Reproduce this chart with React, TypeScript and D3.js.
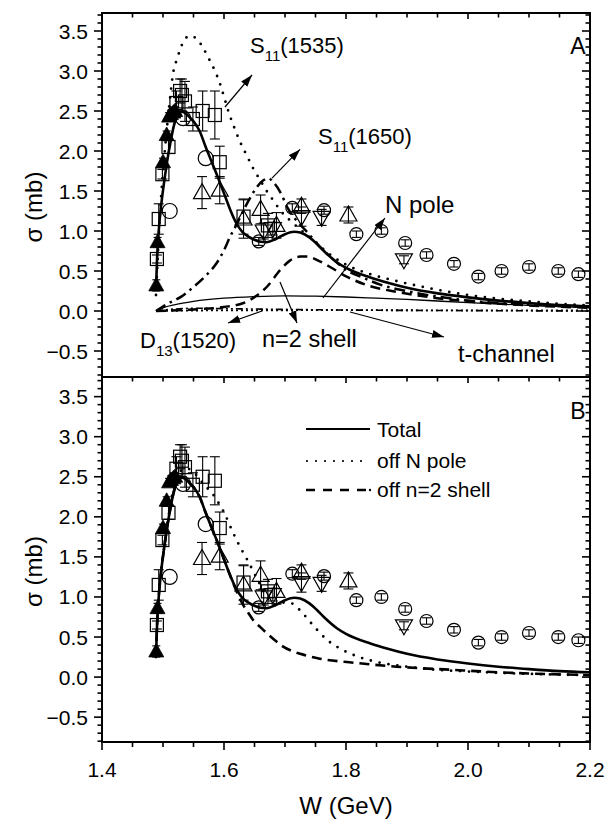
import React from 'react';
import * as d3 from 'd3';

// ---------- data ----------
// [W (GeV), sigma (mb), error]
const squares: number[][] = [
  [1.490, 0.65, 0.05], [1.493, 1.15, 0.19], [1.499, 1.71, 0.06], [1.509, 2.05, 0.08],
  [1.522, 2.60, 0.15], [1.528, 2.75, 0.15], [1.531, 2.70, 0.2], [1.536, 2.62, 0.25],
  [1.549, 2.40, 0.15], [1.565, 2.50, 0.25], [1.585, 2.45, 0.3], [1.593, 1.86, 0.2],
  [1.632, 1.18, 0.22], [1.672, 1.07, 0.15],
];
const filledTriangles: number[][] = [
  [1.489, 0.32, 0.07], [1.491, 0.86, 0.06], [1.500, 1.86, 0.05], [1.506, 2.20, 0.05],
  [1.510, 2.43, 0.05], [1.513, 2.46, 0.05], [1.517, 2.48, 0.05], [1.520, 2.50, 0.05],
];
const bigCircles: number[][] = [
  [1.511, 1.25, 0.0], [1.533, 2.41, 0.0], [1.570, 1.91, 0.0],
];
const smallCircles: number[][] = [
  [1.657, 0.87, 0.05], [1.712, 1.29, 0.05], [1.764, 1.26, 0.05], [1.817, 0.96, 0.04],
  [1.858, 1.00, 0.04], [1.897, 0.85, 0.04], [1.932, 0.70, 0.04], [1.977, 0.59, 0.04],
  [2.017, 0.43, 0.04], [2.055, 0.50, 0.04], [2.100, 0.55, 0.04], [2.148, 0.50, 0.04],
  [2.181, 0.46, 0.04],
];
const upTriangles: number[][] = [
  [1.564, 1.48, 0.2], [1.593, 1.51, 0.17], [1.632, 1.15, 0.24], [1.660, 1.27, 0.18],
  [1.686, 1.07, 0.16], [1.727, 1.31, 0.09], [1.804, 1.20, 0.1],
];
const downTriangles: number[][] = [
  [1.665, 1.0, 0.1], [1.680, 1.03, 0.08], [1.727, 1.18, 0.12], [1.760, 1.17, 0.1],
  [1.895, 0.64, 0.05],
];

// ---------- model curves [W, sigma] ----------
const totalCurve: number[][] = [
  [1.4885, 0.25], [1.490, 0.6], [1.493, 1.0], [1.497, 1.32], [1.502, 1.62], [1.507, 1.88],
  [1.512, 2.10], [1.518, 2.32], [1.524, 2.45], [1.530, 2.49], [1.537, 2.47], [1.545, 2.41],
  [1.550, 2.37], [1.560, 2.25], [1.570, 2.05], [1.580, 1.86], [1.590, 1.67], [1.600, 1.47],
  [1.610, 1.27], [1.620, 1.10], [1.630, 0.99], [1.640, 0.93], [1.650, 0.89], [1.660, 0.865],
  [1.670, 0.86], [1.685, 0.90], [1.700, 0.96], [1.715, 0.99], [1.725, 0.98], [1.740, 0.92],
  [1.752, 0.84], [1.765, 0.74], [1.785, 0.61], [1.800, 0.54], [1.840, 0.42], [1.870, 0.35],
  [1.900, 0.29], [1.950, 0.22], [2.000, 0.17], [2.050, 0.13], [2.100, 0.10], [2.150, 0.075],
  [2.200, 0.06],
];
const s11_1535: number[][] = [
  [1.4885, 0.2], [1.495, 1.2], [1.503, 2.0], [1.510, 2.55], [1.517, 2.99], [1.523, 3.15],
  [1.533, 3.36], [1.544, 3.44], [1.554, 3.41], [1.565, 3.3], [1.574, 3.17], [1.584, 3.02],
  [1.593, 2.85], [1.600, 2.68], [1.607, 2.5], [1.615, 2.33], [1.626, 2.12], [1.637, 1.95],
  [1.648, 1.78], [1.659, 1.64], [1.670, 1.5], [1.681, 1.38], [1.692, 1.26], [1.710, 1.12],
  [1.725, 1.02], [1.746, 0.89], [1.768, 0.74], [1.800, 0.58], [1.840, 0.46], [1.880, 0.38],
  [1.940, 0.28], [2.000, 0.20], [2.050, 0.155], [2.100, 0.12], [2.150, 0.09], [2.200, 0.07],
];
const s11_1650: number[][] = [
  [1.4885, 0.0], [1.510, 0.1], [1.530, 0.18], [1.550, 0.30], [1.570, 0.44], [1.588, 0.60],
  [1.600, 0.76], [1.610, 0.93], [1.622, 1.1], [1.632, 1.26], [1.644, 1.43], [1.654, 1.55],
  [1.664, 1.63], [1.672, 1.66], [1.682, 1.6], [1.692, 1.49], [1.705, 1.28], [1.720, 1.12],
  [1.736, 0.99], [1.755, 0.82], [1.774, 0.68], [1.801, 0.51], [1.830, 0.41], [1.856, 0.33],
  [1.905, 0.24], [1.950, 0.18], [2.000, 0.13], [2.100, 0.08], [2.200, 0.05],
];
const n2Shell: number[][] = [
  [1.4885, 0.0], [1.550, 0.02], [1.600, 0.05], [1.632, 0.1], [1.655, 0.2], [1.670, 0.3],
  [1.692, 0.51], [1.708, 0.63], [1.725, 0.68], [1.737, 0.68], [1.752, 0.64], [1.774, 0.55],
  [1.801, 0.43], [1.840, 0.31], [1.883, 0.24], [1.940, 0.17], [2.000, 0.12], [2.100, 0.07],
  [2.200, 0.04],
];
const nPole: number[][] = [
  [1.4885, 0.0], [1.500, 0.04], [1.520, 0.08], [1.550, 0.12], [1.600, 0.16], [1.650, 0.18],
  [1.700, 0.19], [1.750, 0.185], [1.800, 0.175], [1.850, 0.16], [1.900, 0.145], [1.950, 0.125],
  [2.000, 0.105], [2.100, 0.07], [2.200, 0.04],
];
const d13_1520: number[][] = [
  [1.4885, 0.0], [1.520, 0.025], [1.560, 0.035], [1.600, 0.03], [1.700, 0.02], [1.800, 0.012],
  [2.000, 0.005], [2.200, 0.0],
];
const tChannel: number[][] = [
  [1.4885, 0.0], [1.600, 0.008], [1.800, 0.01], [2.000, 0.008], [2.200, 0.006],
];
const offNPole: number[][] = [
  [1.4885, 0.25], [1.490, 0.6], [1.493, 1.0], [1.497, 1.32], [1.502, 1.62], [1.507, 1.9],
  [1.512, 2.14], [1.518, 2.38], [1.524, 2.52], [1.530, 2.58], [1.540, 2.6], [1.550, 2.56],
  [1.560, 2.47], [1.570, 2.38], [1.580, 2.3], [1.588, 2.21], [1.599, 2.07], [1.615, 1.80],
  [1.626, 1.63], [1.637, 1.48], [1.648, 1.32], [1.656, 1.2], [1.664, 1.08], [1.672, 0.98],
  [1.681, 0.91], [1.697, 0.93], [1.711, 0.92], [1.725, 0.83], [1.741, 0.69], [1.755, 0.57],
  [1.768, 0.47], [1.787, 0.37], [1.818, 0.26], [1.850, 0.19], [1.900, 0.13], [1.950, 0.09],
  [2.000, 0.07], [2.100, 0.04], [2.200, 0.025],
];
const offN2Shell: number[][] = [
  [1.4885, 0.25], [1.490, 0.6], [1.493, 1.0], [1.497, 1.32], [1.502, 1.62], [1.507, 1.88],
  [1.512, 2.10], [1.518, 2.32], [1.524, 2.45], [1.530, 2.49], [1.537, 2.47], [1.545, 2.41],
  [1.550, 2.37], [1.560, 2.25], [1.570, 2.05], [1.580, 1.86], [1.590, 1.67], [1.600, 1.47],
  [1.610, 1.27], [1.620, 1.08], [1.630, 0.92], [1.640, 0.80], [1.648, 0.71], [1.660, 0.62],
  [1.670, 0.55], [1.685, 0.45], [1.697, 0.38], [1.710, 0.33], [1.725, 0.29], [1.757, 0.23],
  [1.812, 0.18], [1.883, 0.13], [1.976, 0.09], [2.050, 0.06], [2.100, 0.045], [2.200, 0.025],
];

const xTickLabels = [1.4, 1.6, 1.8, 2.0, 2.2];
const yTickLabels = [-0.5, 0.0, 0.5, 1.0, 1.5, 2.0, 2.5, 3.0, 3.5];

// annotations: text, anchor [W, sigma]
const annotations = [
  { main: 'S', sub: '11', rest: '(1535)', at: [1.6426, 3.225], size: 22 },
  { main: 'S', sub: '11', rest: '(1650)', at: [1.7541, 2.0875], size: 22 },
  { main: 'N pole', sub: '', rest: '', at: [1.8639, 1.225], size: 24 },
  { main: 'D', sub: '13', rest: '(1520)', at: [1.4623, -0.4625], size: 22 },
  { main: 'n=2 shell', sub: '', rest: '', at: [1.6623, -0.45], size: 23.5 },
  { main: 't-channel', sub: '', rest: '', at: [1.9836, -0.6375], size: 23.5 },
];
// arrows: from [W, sigma] to [W, sigma]
const arrows = [
  [[1.6016, 2.55], [1.6459, 2.95]],
  [[1.6787, 1.66], [1.7246, 2.02]],
  [[1.7623, 0.1625], [1.8639, 1.1625]],
  [[1.6918, 0.3625], [1.7197, -0.15]],
  [[1.6623, 0.0], [1.6066, -0.15]],
  [[1.8066, -0.0125], [1.9607, -0.325]],
];

const FONT = '"Liberation Sans", Arial, Helvetica, sans-serif';

const x = d3.scaleLinear().domain([1.4, 2.2]).range([102, 590]);
const yA = d3.scaleLinear().domain([-0.825, 3.725]).range([377, 13]);
const yB = d3.scaleLinear().domain([-0.81, 3.745]).range([742, 377]);

type Scale = d3.ScaleLinear<number, number>;

function curvePath(data: number[][], y: Scale) {
  const line = d3
    .line<number[]>()
    .x((d) => x(d[0]))
    .y((d) => y(d[1]))
    .curve(d3.curveMonotoneX);
  return line(data) || '';
}

function ErrBar({ d, y, cap }: { d: number[]; y: Scale; cap: number }) {
  if (!d[2]) return null;
  const cx = x(d[0]);
  const y1 = y(d[1] - d[2]);
  const y2 = y(d[1] + d[2]);
  return (
    <g stroke="black" strokeWidth={1.1}>
      <line x1={cx} x2={cx} y1={y1} y2={y2} />
      <line x1={cx - cap} x2={cx + cap} y1={y1} y2={y1} />
      <line x1={cx - cap} x2={cx + cap} y1={y2} y2={y2} />
    </g>
  );
}

function DataPoints({ y }: { y: Scale }) {
  return (
    <g>
      {squares.map((d, i) => (
        <g key={'s' + i}>
          <ErrBar d={d} y={y} cap={5} />
          <rect x={x(d[0]) - 6.5} y={y(d[1]) - 6.5} width={13} height={13} fill="none" stroke="black" strokeWidth={1.2} />
        </g>
      ))}
      {upTriangles.map((d, i) => {
        const cx = x(d[0]);
        const cy = y(d[1]);
        return (
          <g key={'u' + i}>
            <ErrBar d={d} y={y} cap={5} />
            <path d={`M${cx},${cy - 9}L${cx + 8.5},${cy + 6}L${cx - 8.5},${cy + 6}Z`} fill="none" stroke="black" strokeWidth={1.2} />
          </g>
        );
      })}
      {downTriangles.map((d, i) => {
        const cx = x(d[0]);
        const cy = y(d[1]);
        return (
          <g key={'d' + i}>
            <ErrBar d={d} y={y} cap={5} />
            <path d={`M${cx},${cy + 9}L${cx + 8.5},${cy - 6}L${cx - 8.5},${cy - 6}Z`} fill="none" stroke="black" strokeWidth={1.2} />
          </g>
        );
      })}
      {bigCircles.map((d, i) => (
        <circle key={'b' + i} cx={x(d[0])} cy={y(d[1])} r={7.5} fill="none" stroke="black" strokeWidth={1.2} />
      ))}
      {smallCircles.map((d, i) => (
        <g key={'c' + i}>
          <ErrBar d={d} y={y} cap={4.5} />
          <circle cx={x(d[0])} cy={y(d[1])} r={6.5} fill="none" stroke="black" strokeWidth={1.2} />
        </g>
      ))}
      {filledTriangles.map((d, i) => {
        const cx = x(d[0]);
        const cy = y(d[1]);
        return (
          <g key={'f' + i}>
            <ErrBar d={d} y={y} cap={4} />
            <path d={`M${cx},${cy - 8}L${cx + 7.5},${cy + 5.5}L${cx - 7.5},${cy + 5.5}Z`} fill="black" stroke="black" strokeWidth={0.8} />
          </g>
        );
      })}
    </g>
  );
}

function Frame({ y, top, bottom, showXLabels, topTicks }: { y: Scale; top: number; bottom: number; showXLabels: boolean; topTicks: boolean }) {
  const left = x.range()[0];
  const right = x.range()[1];
  const [d0, d1] = y.domain();
  const yMinor = d3.range(-8, 38).map((i) => i / 10).filter((v) => v >= d0 && v <= d1);
  const xMinor = d3.range(28, 45).map((i) => i / 20);
  return (
    <g>
      <rect x={left} y={top} width={right - left} height={bottom - top} fill="none" stroke="black" strokeWidth={2} />
      {yMinor.map((v, i) => {
        const major = Math.abs(Math.round(v * 10) % 5) === 0;
        const len = major ? 8 : 4.5;
        return (
          <g key={'yt' + i} stroke="black" strokeWidth={1.6}>
            <line x1={left - len} x2={left} y1={y(v)} y2={y(v)} />
            <line x1={right - len} x2={right} y1={y(v)} y2={y(v)} />
          </g>
        );
      })}
      {yTickLabels.map((v, i) => (
        <text key={'yl' + i} x={left - 14} y={y(v) + 7.5} textAnchor="end" fontSize={21} fontFamily={FONT}>
          {d3.format('.1f')(v)}
        </text>
      ))}
      {xMinor.map((v, i) => {
        const major = Math.round(v * 20) % 4 === 0;
        const len = major ? 8 : 5;
        return (
          <g key={'xt' + i} stroke="black" strokeWidth={1.6}>
            {topTicks && <line x1={x(v)} x2={x(v)} y1={top} y2={top + (major ? 6 : 4.5)} />}
            {showXLabels && <line x1={x(v)} x2={x(v)} y1={bottom} y2={bottom + len} />}
          </g>
        );
      })}
      {showXLabels &&
        xTickLabels.map((v, i) => (
          <text key={'xl' + i} x={x(v)} y={777} textAnchor="middle" fontSize={21} fontFamily={FONT}>
            {d3.format('.1f')(v)}
          </text>
        ))}
      <text
        transform={`translate(42,${(top + bottom) / 2 + 12}) rotate(-90)`}
        textAnchor="middle"
        fontSize={24}
        fontFamily={FONT}
      >
        σ (mb)
      </text>
    </g>
  );
}

export default function App() {
  const arrowLine = (a: number[][], i: number) => (
    <line
      key={'ar' + i}
      x1={x(a[0][0])}
      y1={yA(a[0][1])}
      x2={x(a[1][0])}
      y2={yA(a[1][1])}
      stroke="black"
      strokeWidth={1.2}
      markerEnd="url(#ah)"
    />
  );
  return (
    <svg width={609} height={821} style={{ position: 'absolute', left: 0, top: 0, background: 'white' }}>
      <defs>
        <marker id="ah" viewBox="0 0 12 8" refX={12} refY={4} markerWidth={12} markerHeight={8} markerUnits="userSpaceOnUse" orient="auto">
          <path d="M0,0L12,4L0,8Z" fill="black" />
        </marker>
      </defs>
      <rect x={0} y={0} width={609} height={821} fill="white" />

      {/* Panel A */}
      <g>
        <DataPoints y={yA} />
        <path d={curvePath(d13_1520, yA)} fill="none" stroke="black" strokeWidth={1.6} strokeDasharray="7,3,2,3,2,3" />
        <path d={curvePath(tChannel, yA)} fill="none" stroke="black" strokeWidth={1.8} strokeDasharray="2,3" />
        <path d={curvePath(nPole, yA)} fill="none" stroke="black" strokeWidth={1.3} />
        <path d={curvePath(n2Shell, yA)} fill="none" stroke="black" strokeWidth={2.5} strokeDasharray="10,6" />
        <path d={curvePath(s11_1650, yA)} fill="none" stroke="black" strokeWidth={2.5} strokeDasharray="11,5,2.5,5" />
        <path d={curvePath(s11_1535, yA)} fill="none" stroke="black" strokeWidth={2.8} strokeDasharray="0,9" strokeLinecap="round" />
        <path d={curvePath(totalCurve, yA)} fill="none" stroke="black" strokeWidth={2.6} />
        {arrows.map(arrowLine)}
        {annotations.map((a, i) => (
          <text key={'an' + i} x={x(a.at[0])} y={yA(a.at[1])} fontSize={a.size} fontFamily={FONT}>
            {a.main}
            {a.sub && (
              <tspan fontSize={15} dy={8}>
                {a.sub}
              </tspan>
            )}
            {a.rest && (
              <tspan dy={-8}>{a.rest}</tspan>
            )}
          </text>
        ))}
        <text x={x(2.1803)} y={yA(3.2125)} textAnchor="middle" fontSize={23} fontFamily={FONT}>
          A
        </text>
        <Frame y={yA} top={13} bottom={377} showXLabels={false} topTicks={true} />
      </g>

      {/* Panel B */}
      <g>
        <DataPoints y={yB} />
        <path d={curvePath(offN2Shell, yB)} fill="none" stroke="black" strokeWidth={2.6} strokeDasharray="10,6" />
        <path d={curvePath(offNPole, yB)} fill="none" stroke="black" strokeWidth={2.8} strokeDasharray="0,9" strokeLinecap="round" />
        <path d={curvePath(totalCurve, yB)} fill="none" stroke="black" strokeWidth={2.6} />
        <text x={x(2.1803)} y={yB(3.225)} textAnchor="middle" fontSize={23} fontFamily={FONT}>
          B
        </text>
        {/* legend */}
        <g fontFamily={FONT} fontSize={21}>
          <line x1={306} x2={370} y1={429} y2={429} stroke="black" strokeWidth={2.2} />
          <text x={377} y={437}>Total</text>
          <line x1={307} x2={370} y1={461} y2={461} stroke="black" strokeWidth={2.2} strokeDasharray="0,9" strokeLinecap="round" />
          <text x={377} y={468}>off N pole</text>
          <line x1={306} x2={370} y1={490} y2={490} stroke="black" strokeWidth={2.4} strokeDasharray="9,8" />
          <circle cx={370} cy={490} r={1.2} fill="black" />
          <text x={377} y={497}>off n=2 shell</text>
        </g>
        <Frame y={yB} top={377} bottom={742} showXLabels={true} topTicks={true} />
      </g>

      <text x={346} y={814} textAnchor="middle" fontSize={24} fontFamily={FONT}>
        W (GeV)
      </text>
    </svg>
  );
}
